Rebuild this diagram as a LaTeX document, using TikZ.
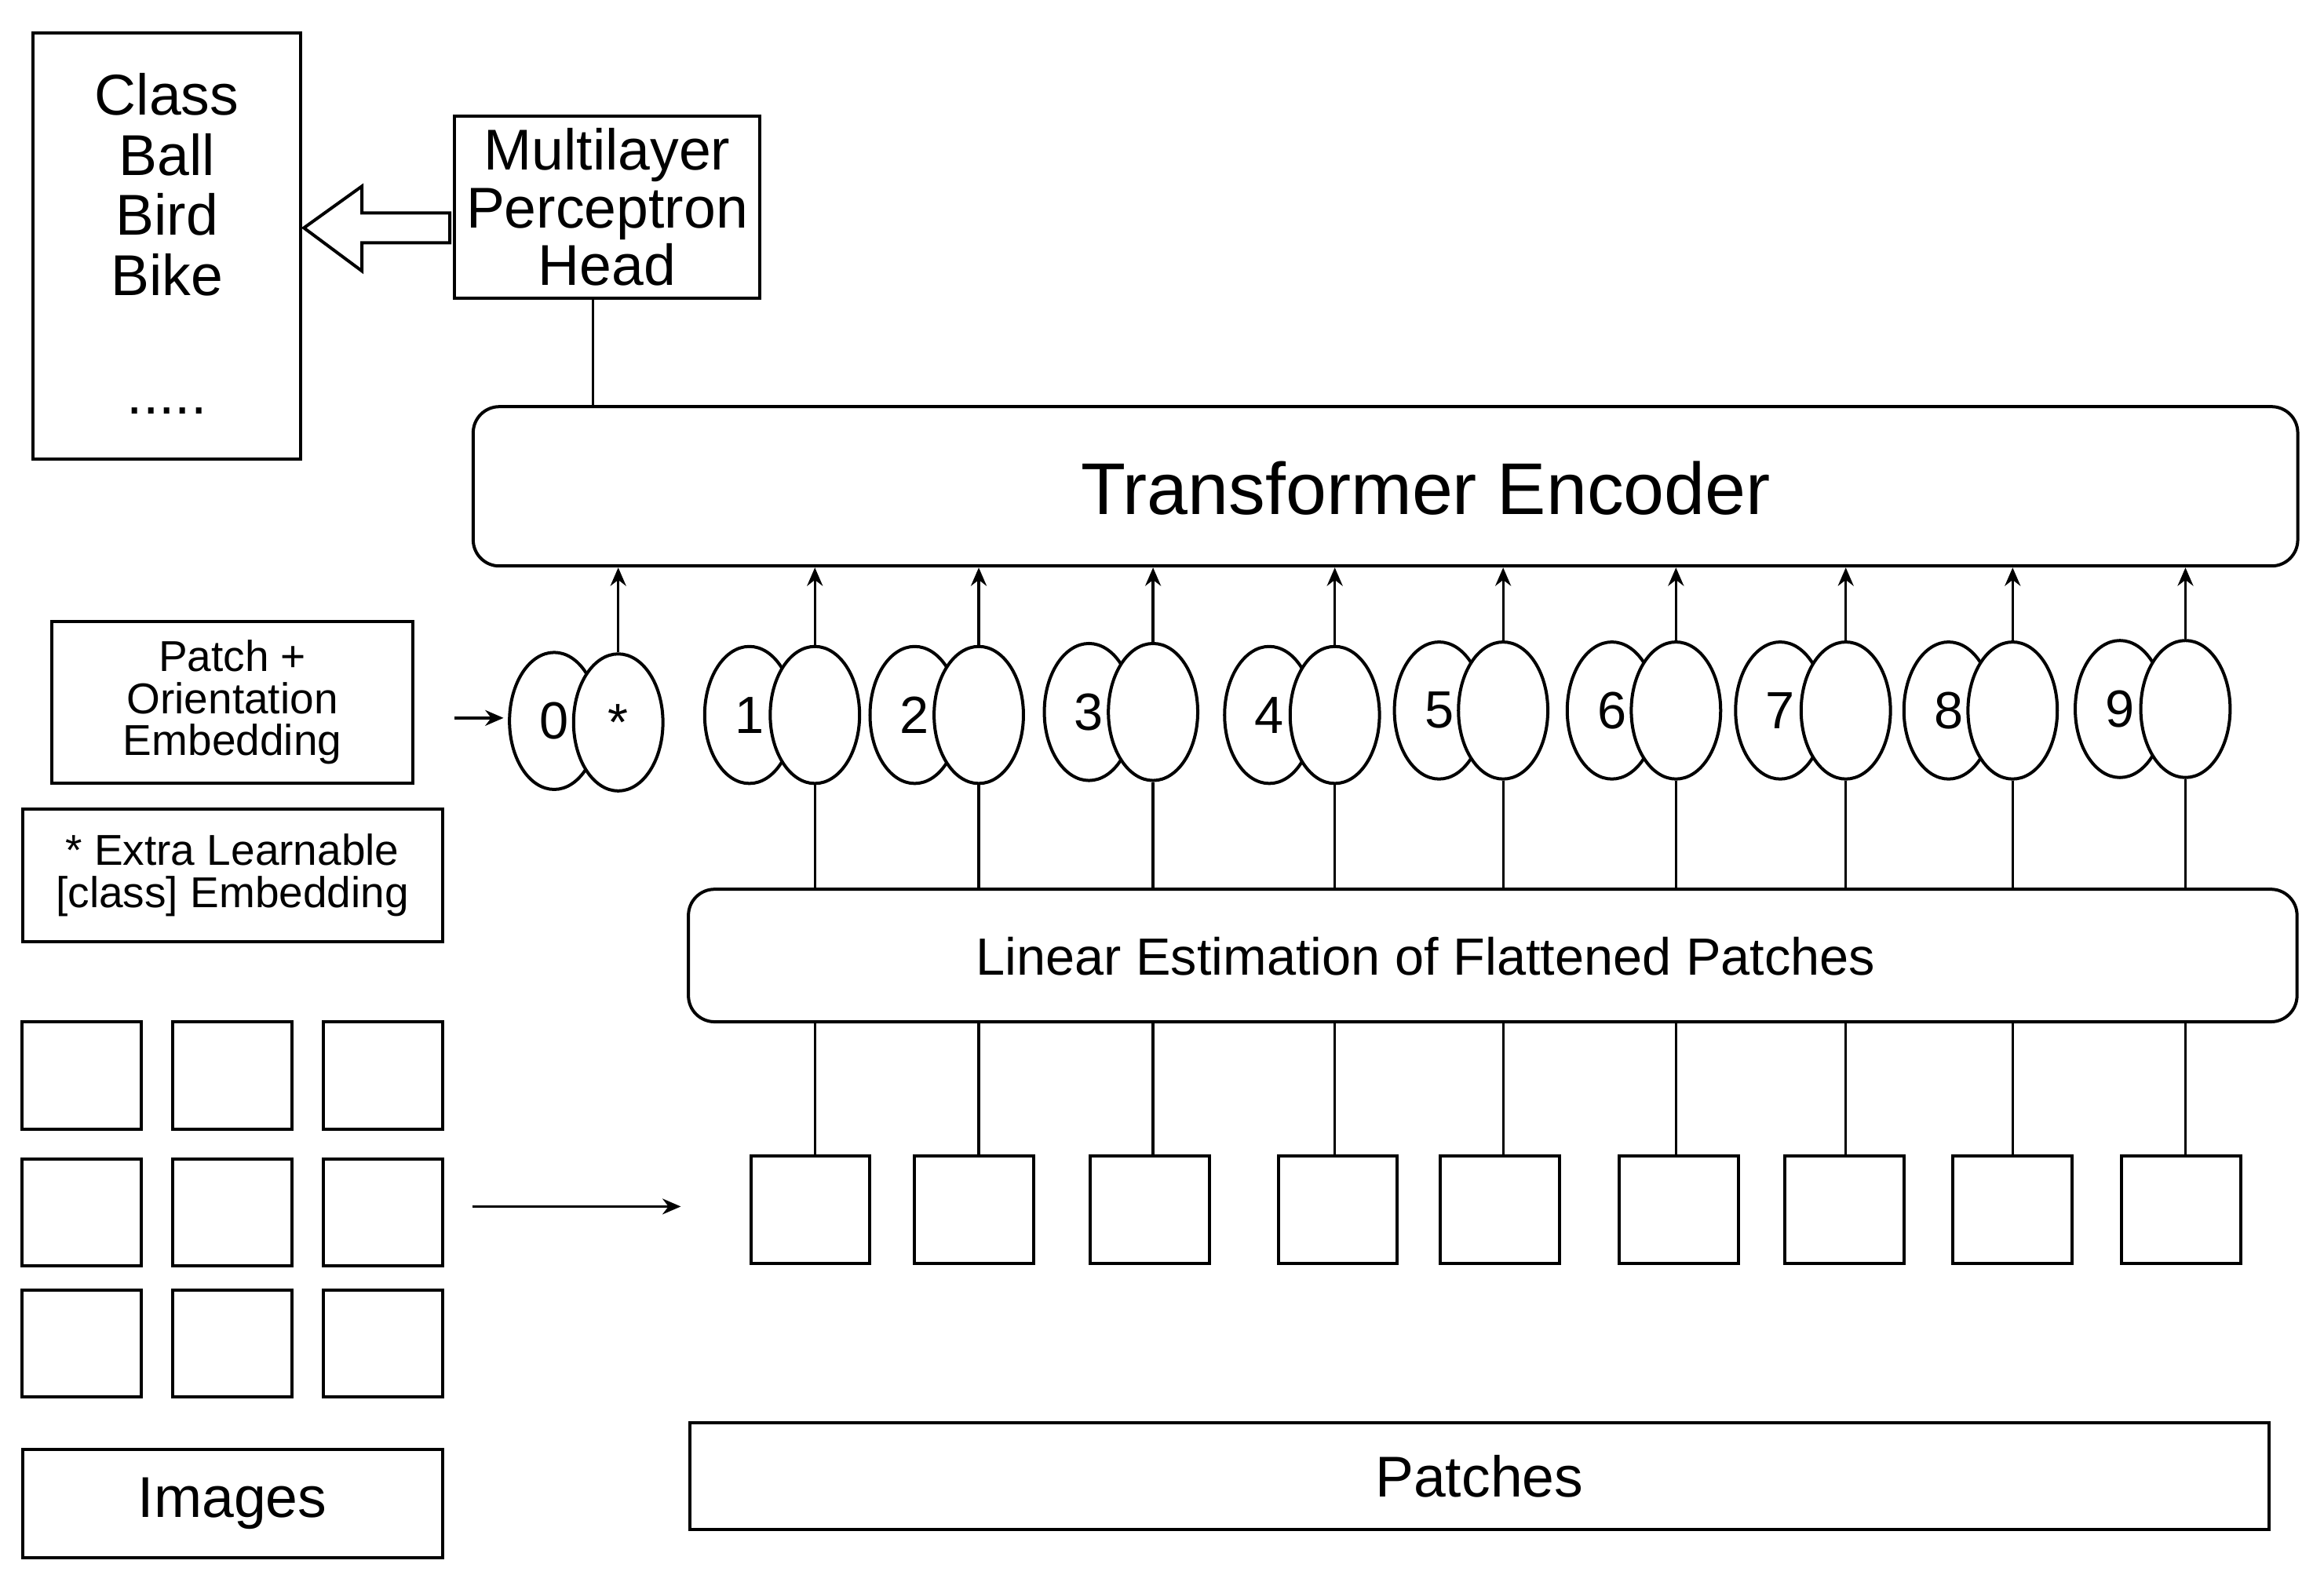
\documentclass[tikz,border=0pt]{standalone}
\usepackage{fontspec}
\setmainfont{Liberation Sans}
\usetikzlibrary{shapes.geometric,arrows.meta}
\begin{document}
\begin{tikzpicture}[x=0.02cm,y=-0.02cm,
  box/.style={draw,line width=1.2pt,inner sep=0pt},
  rbox/.style={box,rounded corners=10pt},
  ln/.style={line width=1pt},
  ar/.style={line width=1pt,-{Stealth[length=7pt,width=6pt]}},
  big/.style={font=\fontsize{22}{26}\selectfont},
  mid/.style={font=\fontsize{16.5}{19}\selectfont},
  el/.style={draw,fill=white,line width=1.2pt,ellipse,minimum width=1.2cm,minimum height=1.84cm,inner sep=0pt,font=\fontsize{20}{24}\selectfont}]
\useasboundingbox (0,0) rectangle (1560,1057);
% class box
\node[box,minimum width=3.6cm,minimum height=5.72cm] (cls) at (112,165) {};
\node[big,align=center] (clst) at (112,124) {Class\\[-3pt]Ball\\[-3pt]Bird\\[-3pt]Bike};
\node[big] (dots) at (112,276) {.....};
\node[box,minimum width=4.1cm,minimum height=2.44cm,big,align=center] (mlp) at (407.5,139) {Multilayer\\[-4pt]Perceptron\\[-4pt]Head};
\draw[line width=1.2pt,fill=white] (302,143) -- (243,143) -- (243,125) -- (204,153) -- (243,182) -- (243,163) -- (302,163) -- cycle;
\node[rbox,minimum width=24.5cm,minimum height=2.14cm] (enc) at (930,326.5) {};
\node[font=\fontsize{28}{32}\selectfont] (enct) at (957,328) {Transformer Encoder};
\coordinate (mlpb) at (398,200);
\draw[ln] (mlpb) -- (398,272);
\node[box,minimum width=4.84cm,minimum height=2.18cm,mid,align=center] (poe) at (156,471.5) {Patch +\\[-3pt]Orientation\\[-3pt]Embedding};
\node[box,minimum width=5.64cm,minimum height=1.78cm,mid,align=center] (ele) at (156,587.5) {* Extra Learnable\\[-3pt][class] Embedding};
\node[rbox,minimum width=21.6cm,minimum height=1.78cm] (lin) at (1002,641.5) {};
\node[font=\fontsize{20}{24}\selectfont] (lint) at (957,642) {Linear Estimation of Flattened Patches};
% ellipses
\node[el] (a0) at (372,484) {0};
\node[el] (b0) at (415,485) {*};
\draw[ar] (b0.north) -- (b0.north |- enc.south);
\draw[ar] (305,482) coordinate (pa) -- (338,482) coordinate (pb);
\foreach \i/\xa/\xb/\yy/\px in {1/503/547/480/504,2/614/657/480/614,3/731/774/478/732,4/852/896/480/858,5/966/1009/477/967,6/1082/1125/477/1087,7/1195/1239/477/1198,8/1308/1351/477/1311,9/1423/1467/476/1424}{
  \node[el] (a\i) at (\xa,\yy) {};
  \node at (\xa,\yy) {\fontsize{20}{24}\selectfont\i};
  \node[el] (b\i) at (\xb,\yy) {};
  \draw[ar] (b\i.north) -- (b\i.north |- enc.south);
  \draw[ln] (b\i.south) -- (b\i.south |- lin.north);
  \node[box,minimum width=1.6cm,minimum height=1.44cm] (p\i) at (\px+40,812) {};
  \draw[ln] (p\i.north -| b\i.south) -- (b\i.south |- lin.south);
}
% grid
\foreach \r/\yy in {1/722,2/814,3/902}{
  \foreach \c/\xx in {1/55,2/156,3/257}{
    \node[box,minimum width=1.6cm,minimum height=1.44cm] (g\r\c) at (\xx,\yy) {};
  }
}
\coordinate (ga) at (317,810);
\coordinate (gb) at (457,810);
\draw[ar] (ga) -- (gb);
\node[box,minimum width=5.64cm,minimum height=1.46cm,big] (img) at (156,1009.5) {Images};
\node[box,minimum width=21.2cm,minimum height=1.44cm,big] (pat) at (993,991) {Patches};
\end{tikzpicture}
\end{document}
